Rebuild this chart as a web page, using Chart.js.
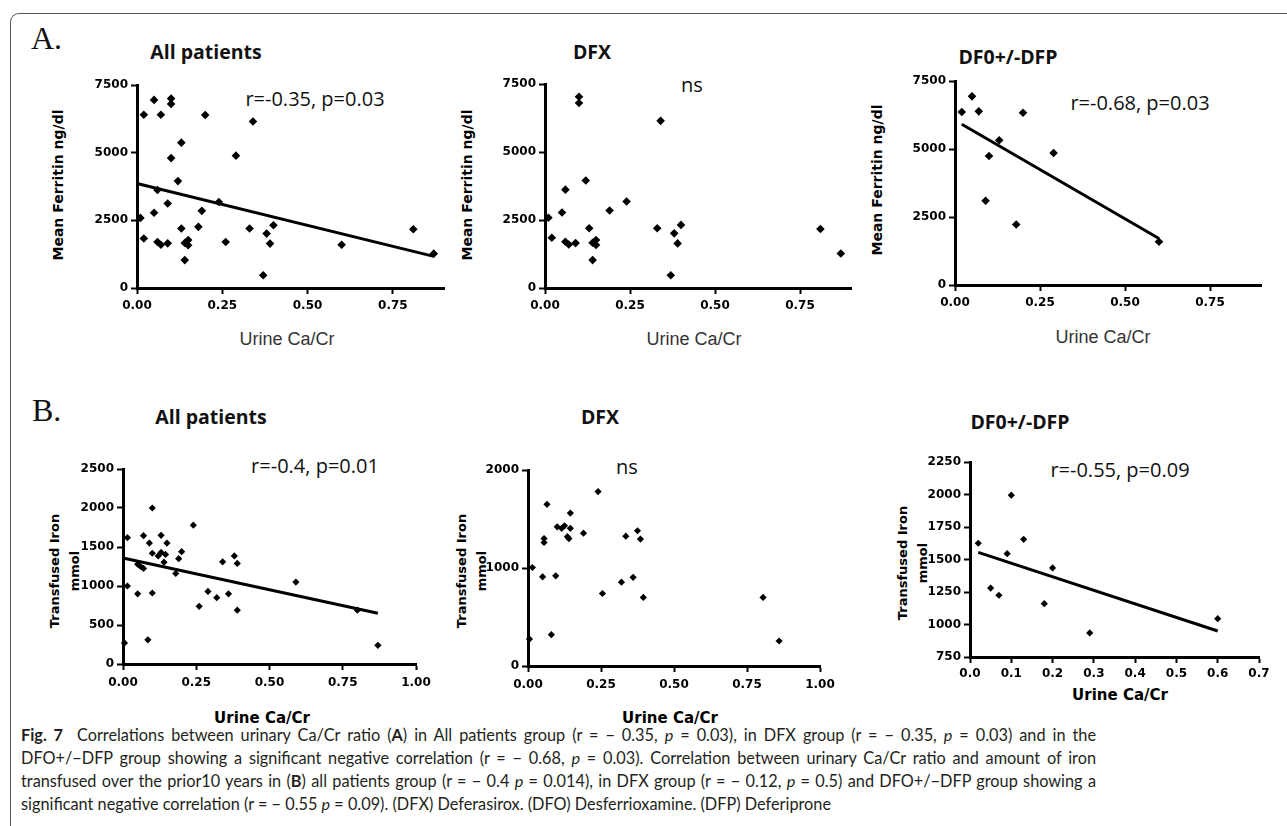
<!DOCTYPE html>
<html><head><meta charset="utf-8">
<script src="https://cdn.jsdelivr.net/npm/chart.js@4.4.1/dist/chart.umd.min.js"></script>
<style>
html,body{margin:0;padding:0;background:#fff;}
#fig{position:relative;width:1287px;height:826px;overflow:hidden;background:#fff;}
.frame{position:absolute;left:10px;top:13px;width:1400px;height:1000px;border-top:1.5px solid #555;border-left:1.5px solid #555;border-top-left-radius:9px;}
.t{position:absolute;white-space:nowrap;line-height:1;transform:translate(-50%,-50%);color:#111;}
.ptitle{font-family:'Open Sans';font-weight:700;font-size:19.5px;}
.ann{font-family:'Open Sans';font-size:20px;}
.letter{font-family:'Liberation Serif';font-size:32px;transform:translate(0,-50%);}
.yt{font-family:'DejaVu Sans';font-weight:700;font-size:14px;transform:translate(-50%,-50%) rotate(-90deg);color:#000;}
.ytb{font-family:'DejaVu Sans';font-weight:700;font-size:13px;line-height:20px;text-align:center;transform:translate(-50%,-50%) rotate(-90deg);color:#000;}
.xta{font-family:'Liberation Sans';font-size:18px;color:#333;}
.xtb{font-family:'DejaVu Sans';font-weight:700;font-size:15px;color:#000;}
canvas{position:absolute;}
.cap{position:absolute;left:21px;white-space:nowrap;font-family:Lato,sans-serif;font-size:16.3px;color:#231f20;transform:translateY(-50%);line-height:1.2;}
.cap.j{text-align:justify;text-align-last:justify;white-space:normal;width:1075px;}
.cap b{font-weight:700;}
</style>
</head><body>
<div id="fig">
<div class="frame"></div>
<div class="t letter" style="left:31px;top:38px;">A.</div>
<div class="t letter" style="left:32px;top:410px;">B.</div>
<div class="t ptitle" style="left:206px;top:52px;">All patients</div>
<div class="t ptitle" style="left:592px;top:52px;">DFX</div>
<div class="t ptitle" style="left:1008px;top:57px;">DF0+/-DFP</div>
<div class="t ptitle" style="left:211px;top:417px;">All patients</div>
<div class="t ptitle" style="left:600px;top:417px;">DFX</div>
<div class="t ptitle" style="left:1020px;top:422px;">DF0+/-DFP</div>
<div class="t ann" style="left:315px;top:99px;">r=-0.35, p=0.03</div>
<div class="t ann" style="left:692px;top:85px;">ns</div>
<div class="t ann" style="left:1140px;top:103px;">r=-0.68, p=0.03</div>
<div class="t ann" style="left:315px;top:466px;">r=-0.4, p=0.01</div>
<div class="t ann" style="left:627px;top:467px;">ns</div>
<div class="t ann" style="left:1120px;top:470px;">r=-0.55, p=0.09</div>
<div class="t yt" style="left:58px;top:185px;">Mean Ferritin ng/dl</div>
<div class="t yt" style="left:467px;top:185px;">Mean Ferritin ng/dl</div>
<div class="t yt" style="left:877px;top:180px;">Mean Ferritin ng/dl</div>
<div class="t xta" style="left:287px;top:339px;">Urine Ca/Cr</div>
<div class="t xta" style="left:694px;top:339px;">Urine Ca/Cr</div>
<div class="t xta" style="left:1103px;top:337px;">Urine Ca/Cr</div>
<div class="t ytb" style="left:65px;top:571px;">Transfused Iron<br>mmol</div>
<div class="t ytb" style="left:472px;top:571px;">Transfused Iron<br>mmol</div>
<div class="t ytb" style="left:913px;top:563px;">Transfused Iron<br>mmol</div>
<div class="t xtb" style="left:262px;top:718px;">Urine Ca/Cr</div>
<div class="t xtb" style="left:670px;top:718px;">Urine Ca/Cr</div>
<div class="t xtb" style="left:1120px;top:695px;">Urine Ca/Cr</div>
<div class="cap j" style="top:735px;"><b>Fig. 7</b>&nbsp; Correlations between urinary Ca/Cr ratio (<b>A</b>) in All patients group (r = − 0.35, <i>p</i> = 0.03), in DFX group (r = − 0.35, <i>p</i> = 0.03) and in the</div>
<div class="cap j" style="top:758px;">DFO+/−DFP group showing a significant negative correlation (r = − 0.68, <i>p</i> = 0.03). Correlation between urinary Ca/Cr ratio and amount of iron</div>
<div class="cap j" style="top:781px;">transfused over the prior10 years in (<b>B</b>) all patients group (r = − 0.4 <i>p</i> = 0.014), in DFX group (r = − 0.12, <i>p</i> = 0.5) and DFO+/−DFP group showing a</div>
<div class="cap" style="top:804px;">significant negative correlation (r = − 0.55 <i>p</i> = 0.09). (DFX) Deferasirox. (DFO) Desferrioxamine. (DFP) Deferiprone</div>
</div>
<script>
// ---- data ----
const a1x = [0.02,0.05,0.07,0.10,0.10,0.20,0.34,0.13,0.10,0.29,0.12,0.06,0.09,0.24,0.01,0.05,0.19,0.02,0.06,0.07,0.09,0.13,0.14,0.15,0.15,0.14,0.18,0.26,0.33,0.38,0.40,0.39,0.37,0.60,0.81,0.87];
const a1y = [6400,6950,6400,7000,6800,6390,6150,5370,4800,4890,3950,3620,3120,3180,2590,2780,2850,1830,1700,1600,1650,2200,1660,1770,1580,1030,2260,1700,2200,2010,2320,1640,470,1600,2170,1270];
const a2x = [0.01,0.02,0.05,0.06,0.06,0.07,0.09,0.10,0.10,0.12,0.13,0.14,0.15,0.15,0.14,0.19,0.24,0.33,0.34,0.38,0.40,0.39,0.37,0.81,0.87];
const a2y = [2580,1850,2775,3615,1700,1600,1650,7030,6800,3950,2195,1665,1765,1580,1025,2850,3180,2195,6145,2010,2320,1640,470,2170,1270];
const a3x = [0.02,0.05,0.07,0.20,0.13,0.10,0.29,0.09,0.18,0.60];
const a3y = [6360,6935,6385,6335,5320,4745,4855,3095,2225,1590];
const b1x = [0.015,0.10,0.07,0.09,0.13,0.15,0.10,0.12,0.13,0.145,0.14,0.20,0.19,0.24,0.34,0.38,0.39,0.05,0.06,0.07,0.18,0.015,0.05,0.10,0.005,0.085,0.26,0.29,0.32,0.36,0.39,0.59,0.80,0.87];
const b1y = [1620,2000,1645,1550,1650,1550,1420,1385,1430,1405,1305,1440,1350,1780,1310,1385,1290,1280,1250,1225,1160,1000,900,910,270,310,740,930,850,900,690,1050,690,240];
const b2x = [0.24,0.065,0.145,0.10,0.115,0.125,0.145,0.135,0.14,0.19,0.055,0.055,0.335,0.375,0.385,0.015,0.05,0.095,0.005,0.08,0.255,0.32,0.36,0.395,0.805,0.86];
const b2y = [1780,1650,1560,1420,1405,1430,1405,1320,1300,1355,1300,1260,1325,1380,1295,1005,910,920,275,320,740,855,905,700,700,255];
const b3x = [0.02,0.10,0.09,0.13,0.20,0.05,0.07,0.18,0.29,0.60];
const b3y = [1625,1995,1545,1655,1435,1280,1225,1160,935,1045];
// regression lines (end points)
const fitA1x = [0, 0.87],  fitA1y = [3860, 1170];
const fitA3x = [0.02, 0.60], fitA3y = [5910, 1710];
const fitB1x = [0, 0.87],  fitB1y = [1360, 650];
const fitB3x = [0.02, 0.60], fitB3y = [1555, 950];
// ticks
const xTicksA = [0, 0.25, 0.5, 0.75],  xLabelsA = ['0.00','0.25','0.50','0.75'];
const yTicksA = [0, 2500, 5000, 7500], yLabelsA = ['0','2500','5000','7500'];
const xTicksB = [0, 0.25, 0.5, 0.75, 1], xLabelsB = ['0.00','0.25','0.50','0.75','1.00'];
const yTicksB1 = [0,500,1000,1500,2000,2500], yLabelsB1 = ['0','500','1000','1500','2000','2500'];
const yTicksB2 = [0,1000,2000], yLabelsB2 = ['0','1000','2000'];
const xTicksB3 = [0,0.1,0.2,0.3,0.4,0.5,0.6,0.7], xLabelsB3 = ['0.0','0.1','0.2','0.3','0.4','0.5','0.6','0.7'];
const yTicksB3 = [750,1000,1250,1500,1750,2000,2250], yLabelsB3 = ['750','1000','1250','1500','1750','2000','2250'];

// ---- layout (pixel placement of each plot area) ----
const panels = [
 {px:[137,444], py:[85,288], x:[0,0.9], y:[0,7500], xt:xTicksA, xl:xLabelsA, yt:yTicksA, yl:yLabelsA, pts:[a1x,a1y], fit:[fitA1x,fitA1y], r:4.3, xp:5},
 {px:[545,851], py:[84,288], x:[0,0.9], y:[0,7500], xt:xTicksA, xl:xLabelsA, yt:yTicksA, yl:yLabelsA, pts:[a2x,a2y], fit:null, r:4.3, xp:5},
 {px:[955,1261], py:[81,285], x:[0,0.9], y:[0,7500], xt:xTicksA, xl:xLabelsA, yt:yTicksA, yl:yLabelsA, pts:[a3x,a3y], fit:[fitA3x,fitA3y], r:4.3, xp:5},
 {px:[123,416], py:[469,664], x:[0,1], y:[0,2500], xt:xTicksB, xl:xLabelsB, yt:yTicksB1, yl:yLabelsB1, pts:[b1x,b1y], fit:[fitB1x,fitB1y], r:3.6, xp:6},
 {px:[528,820], py:[470,666], x:[0,1], y:[0,2000], xt:xTicksB, xl:xLabelsB, yt:yTicksB2, yl:yLabelsB2, pts:[b2x,b2y], fit:null, r:3.6, xp:6},
 {px:[970,1259], py:[462,657], x:[0,0.7], y:[750,2250], xt:xTicksB3, xl:xLabelsB3, yt:yTicksB3, yl:yLabelsB3, pts:[b3x,b3y], fit:[fitB3x,fitB3y], r:3.6, xp:4}
];
const YW=60, XH=40, PT=15, PR=25;
const fig = document.getElementById('fig');
const tickFont = {family:'DejaVu Sans', weight:'bold', size:12};
function axisGrid(){ return {display:true, drawOnChartArea:false, drawTicks:true, tickLength:6, tickWidth:2, tickColor:'#000', color:'#000'}; }
panels.forEach(p=>{
  const w = YW + (p.px[1]-p.px[0]) + PR, h = PT + (p.py[1]-p.py[0]) + XH;
  const c = document.createElement('canvas');
  c.width=w; c.height=h;
  c.style.left=(p.px[0]-YW)+'px'; c.style.top=(p.py[0]-PT)+'px';
  c.style.width=w+'px'; c.style.height=h+'px';
  fig.appendChild(c);
  const datasets=[{data:p.pts[0].map((v,i)=>({x:v,y:p.pts[1][i]})), showLine:false, pointStyle:'rectRot', pointRadius:p.r, pointHoverRadius:p.r, backgroundColor:'#000', borderColor:'#000', borderWidth:0, clip:false}];
  if(p.fit) datasets.push({data:p.fit[0].map((v,i)=>({x:v,y:p.fit[1][i]})), showLine:true, pointRadius:0, borderColor:'#000', borderWidth:3, clip:false});
  new Chart(c,{type:'scatter',data:{datasets},options:{
    responsive:false, animation:false, devicePixelRatio:1,
    layout:{padding:{top:PT,right:PR,left:0,bottom:0}},
    plugins:{legend:{display:false},tooltip:{enabled:false}},
    scales:{
      x:{type:'linear',min:p.x[0],max:p.x[1],
         afterFit:s=>{s.height=XH;},
         afterBuildTicks:s=>{s.ticks=p.xt.map(v=>({value:v}));},
         ticks:{callback:(v,i)=>p.xl[i],font:tickFont,color:'#000',padding:p.xp,maxRotation:0,autoSkip:false},
         grid:axisGrid(), border:{display:true,color:'#000',width:3}},
      y:{type:'linear',min:p.y[0],max:p.y[1],
         afterFit:s=>{s.width=YW;},
         afterBuildTicks:s=>{s.ticks=p.yt.map(v=>({value:v}));},
         ticks:{callback:(v,i)=>p.yl[i],font:tickFont,color:'#000',padding:3,autoSkip:false},
         grid:axisGrid(), border:{display:true,color:'#000',width:3}}
    }}});
});
</script>
</body></html>
